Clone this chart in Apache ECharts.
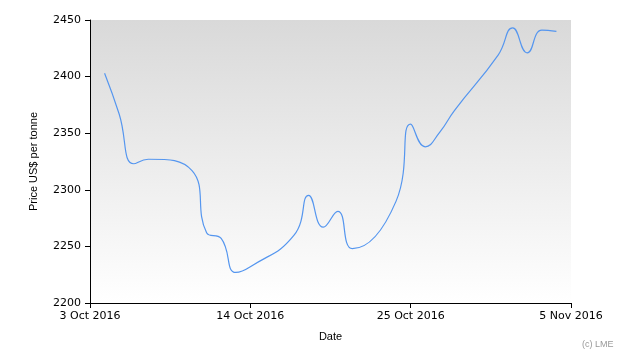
<!DOCTYPE html>
<html><head><meta charset="utf-8">
<script src="https://cdn.jsdelivr.net/npm/echarts@6/dist/echarts.min.js"></script>
<style>html,body{margin:0;padding:0;background:#fff}#c{width:630px;height:360px}</style>
</head><body><div id="c"></div>
<script>
var dates = ['2016-10-04','2016-10-05','2016-10-06','2016-10-07','2016-10-10','2016-10-11','2016-10-12','2016-10-13','2016-10-14',
  '2016-10-17','2016-10-18','2016-10-19','2016-10-20','2016-10-21','2016-10-24','2016-10-25','2016-10-26','2016-10-27','2016-10-28',
  '2016-10-31','2016-11-01','2016-11-02','2016-11-03','2016-11-04'];
var prices = [2403,2367,2323,2327,2317,2262,2257,2227,2232,
  2260,2295,2267,2281,2248,2290,2358,2338,2351,2370,
  2419,2443,2421,2441,2440];
var xTickLabels = ['3 Oct 2016','14 Oct 2016','25 Oct 2016','5 Nov 2016'];
var yTicks = [2200,2250,2300,2350,2400,2450];

var startDate = Date.UTC(2016,9,3);
function dayIndex(s){var p=s.split('-');return Math.round((Date.UTC(+p[0],+p[1]-1,+p[2])-startDate)/86400000);}
var seriesData = dates.map(function(d,i){return [dayIndex(d), prices[i]];});

var chart = echarts.init(document.getElementById('c'), null, {renderer:'canvas'});
var font = 'DejaVu Sans';
chart.setOption({
  animation:false,
  grid:{left:90,right:59,top:20,bottom:57,show:true,borderWidth:0,
    backgroundColor:new echarts.graphic.LinearGradient(0,0,0,1,[{offset:0,color:'#d9d9d9'},{offset:1,color:'#ffffff'}])},
  xAxis:{type:'value',min:0,max:33,interval:11,
    name:'Date',nameLocation:'middle',nameGap:28,
    nameTextStyle:{fontFamily:'Liberation Sans',fontSize:11,color:'#000'},
    axisLine:{lineStyle:{color:'#000',width:1}},
    axisTick:{length:5,lineStyle:{color:'#000'}},
    axisLabel:{margin:8,fontFamily:font,fontSize:11,color:'#000',
      formatter:function(v){return xTickLabels[Math.round(v/11)]||'';}},
    splitLine:{show:false}},
  yAxis:{type:'value',min:yTicks[0],max:yTicks[yTicks.length-1],interval:50,
    name:'Price US$ per tonne',nameLocation:'middle',nameGap:51,nameRotate:90,
    nameTextStyle:{fontFamily:'Liberation Sans',fontSize:11,color:'#000'},
    axisLine:{show:true,lineStyle:{color:'#000',width:1}},
    axisTick:{show:true,length:5,lineStyle:{color:'#000'}},
    axisLabel:{margin:9,fontFamily:font,fontSize:11,color:'#000',formatter:function(v){return String(v);}},
    splitLine:{show:false}},
  graphic:[{type:'text',left:582,top:340,style:{text:'(c) LME',font:'9px "Liberation Sans"',fill:'#999'}}],
  series:[{type:'line',data:seriesData,smooth:0.5,showSymbol:false,
    lineStyle:{color:'#5596ef',width:1.2}}]
});
</script></body></html>
